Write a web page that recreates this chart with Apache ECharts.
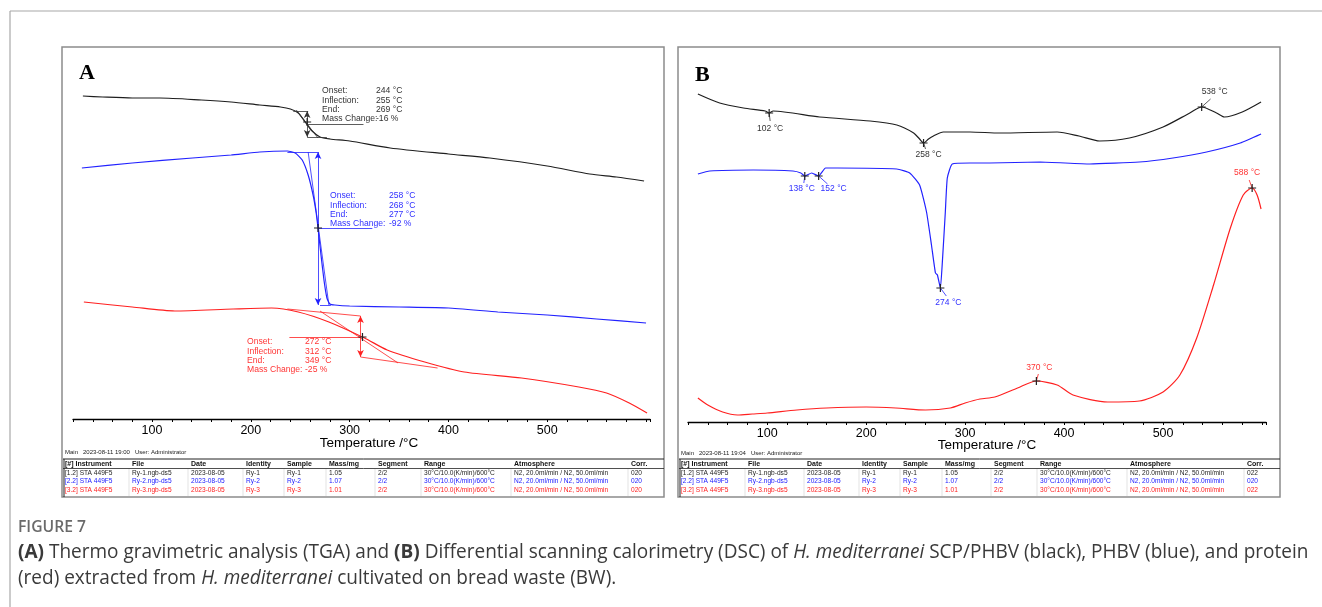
<!DOCTYPE html>
<html>
<head>
<meta charset="utf-8">
<script src="https://cdn.jsdelivr.net/npm/echarts@6/dist/echarts.min.js"></script>
<style>
  html, body { margin: 0; padding: 0; background: #fff; }
  #main { width: 1322px; height: 607px; }
</style>
</head>
<body>
<div id="main"></div>
<script>
// ---- data: [temperature °C, signal (a.u.)] ----
// (A) TGA
const tgaBlack = [[30,323],[50,322],[80,321],[108,321],[150,319],[180,317],[209,314],[230,312],[240,310],[248,306],[255,297],[262,288],[270,282],[280,280],[300,278],[341,271],[400,265],[442,261],[500,253],[543,245],[570,242],[598,238]]
const tgaBlue = [[29,251],[80,256],[141,261],[180,264],[209,267],[237,268],[245,266],[252,259],[258,244],[263,224],[266,207],[268,191],[271,164],[274,139],[277,121],[280,115],[285,114],[300,113],[350,112],[400,111],[450,107],[500,104],[550,100],[600,96]]
const tgaRed = [[31,117],[80,112],[123,108],[182,110],[221,111],[248,107],[279,97],[315,81],[338,69],[376,57],[416,47],[474,41],[532,32],[560,26],[583,16],[601,6]]

// (B) DSC
const dscBlack = [[30,328],[52,319],[76,314],[98,311],[102,309],[106,311],[153,305],[204,301],[231,297],[248,289],[254,283],[258,279],[263,283],[268,286],[278,290],[305,290],[335,289],[393,290],[415,286],[436,281],[466,284],[500,295],[527,309],[539,315],[554,309],[562,305],[580,310],[599,320]]
const dscBlue = [[30,248],[42,251],[86,252],[126,251],[134,249],[138,246],[145,249],[152,246],[159,254],[171,254],[231,253],[244,249],[254,237],[261,210],[266,177],[270,149],[272,147],[275,134],[277,160],[280,210],[282,244],[287,258],[305,259],[325,259],[376,260],[426,258],[476,260],[510,264],[544,270],[578,279],[599,288]]
const dscRed = [[30,24],[40,17],[55,10],[70,7],[85,8],[100,9],[130,12],[160,14],[200,15],[230,14],[260,12],[285,14],[300,19],[315,23],[330,25],[353,34],[372,41],[393,37],[409,27],[444,20],[476,21],[500,30],[517,47],[534,84],[551,137],[568,194],[581,227],[590,234],[595,227],[599,213]]

// TGA step evaluations
const tgaLabels = ['Onset:', 'Inflection:', 'End:', 'Mass Change:']
const tgaBlackVals = ['244 °C', '255 °C', '269 °C', '-16 %']
const tgaBlueVals = ['258 °C', '268 °C', '277 °C', '-92 %']
const tgaRedVals = ['272 °C', '312 °C', '349 °C', '-25 %']

// DSC peak labels: [label, temperature, signal]
const dscBlackPeaks = [['102 °C', 102, 309], ['258 °C', 258, 279], ['538 °C', 539, 315]]
const dscBluePeaks = [['138 °C', 138, 246], ['152 °C', 152, 246], ['274 °C', 275, 134]]
const dscRedPeaks = [['370 °C', 372, 41], ['588 °C', 590, 234]]

// instrument table
const tableHeader = ['[#] Instrument', 'File', 'Date', 'Identity', 'Sample', 'Mass/mg', 'Segment', 'Range', 'Atmosphere', 'Corr.']
const tableIds = ['1.2', '2.2', '3.2']
const tableMass = ['1.05', '1.07', '1.01']
const corrA = ['020', '020', '020']
const corrB = ['022', '020', '022']

const ink = { black: '#1e1e1e', blue: '#2222ff', red: '#ff2020' }
const txt = { black: '#333333', blue: '#3030ff', red: '#ff3535' }

const main = document.getElementById('main')
const chart = echarts.init(main, null, { renderer: 'canvas' })

const plus = 'path://M3.4,0H4.6V8H3.4Z M0,3.4H8V4.6H0Z'

function seg(a, b, arrows) {
  const s0 = arrows ? { coord: a, symbol: 'arrow' } : { coord: a }
  const s1 = arrows ? { coord: b, symbol: 'arrow' } : { coord: b }
  return [s0, s1]
}

function markLines(color, segs) {
  return {
    silent: true,
    symbol: 'none',
    symbolSize: [5, 7],
    animation: false,
    label: { show: false },
    emphasis: { disabled: true },
    lineStyle: { color: color, width: 0.8, type: 'solid' },
    data: segs
  }
}

function crosses(color, pts, labelColor, offsets) {
  return {
    silent: true,
    animation: false,
    symbol: plus,
    symbolSize: 8,
    itemStyle: { color: '#222' },
    label: { show: false },
    data: pts.map((p, i) => ({
      name: p[0] || '',
      coord: p.length === 3 ? [p[1], p[2]] : p,
      label: offsets ? {
        show: true, formatter: p[0], position: 'inside', offset: offsets[i],
        color: labelColor, fontSize: 8.5, fontFamily: 'Liberation Sans'
      } : { show: false }
    }))
  }
}

function curve(name, data, color, xi, extra) {
  return Object.assign({
    name: name,
    type: 'line',
    xAxisIndex: xi,
    yAxisIndex: xi,
    data: data,
    showSymbol: false,
    smooth: 0.25,
    animation: false,
    lineStyle: { color: color, width: 1.2 },
    itemStyle: { color: color }
  }, extra || {})
}

const xAxisBase = {
  type: 'value', min: 20, max: 604, interval: 20,
  axisLine: { lineStyle: { color: '#000', width: 1.3 } },
  axisTick: { length: 3, lineStyle: { color: '#000', width: 1 } },
  splitLine: { show: false },
  axisLabel: {
    color: '#000', fontSize: 12.5, margin: 5, fontFamily: 'Liberation Sans',
    formatter: v => (v % 100 === 0 && v >= 100 && v <= 500) ? String(v) : ''
  }
}

// ---- graphic helpers ----
function text(x, y, s, font, color, align, extra) {
  return Object.assign({
    type: 'text', x: x, y: y, silent: true,
    style: {
      text: s, font: font, fill: color,
      align: align || 'left', textAlign: align || 'left',
      verticalAlign: 'middle', textVerticalAlign: 'middle'
    }
  }, extra || {})
}
function line(x1, y1, x2, y2, color, w) {
  return { type: 'line', silent: true, shape: { x1, y1, x2, y2 }, style: { stroke: color, lineWidth: w || 1 } }
}

const colOffsets = [3, 70, 129, 184, 225, 267, 316, 362, 452, 569]
const rowColors = [ink.black, '#2020ff', '#ff2020']

function table(x0, yTop, corr) {
  const els = []
  const yHead = yTop + 5, rowH = 8.8
  els.push(line(x0 + 1, yTop, x0 + 602, yTop, '#222', 1))
  els.push(line(x0 + 1, yTop + 9.5, x0 + 602, yTop + 9.5, '#222', 0.8))
  els.push(line(x0 + 2, yTop, x0 + 2, yTop + 38, '#222', 1))
  tableHeader.forEach((h, c) => {
    els.push(text(x0 + colOffsets[c], yHead, h, 'bold 7px "Liberation Sans"', '#111'))
    if (c > 0) els.push(line(x0 + colOffsets[c] - 3, yTop + 10, x0 + colOffsets[c] - 3, yTop + 37, '#d0d0d0', 0.6))
  })
  tableIds.forEach((id, r) => {
    const n = r + 1
    const cells = ['[' + id + '] STA 449F5', 'Ry-' + n + '.ngb-ds5', '2023-08-05', 'Ry-' + n, 'Ry-' + n,
      tableMass[r], '2/2', '30°C/10.0(K/min)/600°C', 'N2, 20.0ml/min / N2, 50.0ml/min', corr[r]]
    const y = yHead + rowH * (r + 1)
    cells.forEach((s, c) => els.push(text(x0 + colOffsets[c], y, s, '6.6px "Liberation Sans"', rowColors[r])))
  })
  return els
}

function tgaBlock(x, xv, y0, vals, color) {
  const els = []
  tgaLabels.forEach((l, i) => {
    els.push(text(x, y0 + i * 9.2, l, '8.6px "Liberation Sans"', color))
    els.push(text(xv, y0 + i * 9.2, vals[i], '8.6px "Liberation Sans"', color))
  })
  return els
}

const capFont = '"Open Sans"'
const graphics = [
  line(10, 11, 1322, 11, '#a8a8a8', 1.2),
  line(10, 11, 10, 607, '#a8a8a8', 1.2),
  { type: 'rect', silent: true, shape: { x: 62, y: 47, width: 602, height: 450 }, style: { fill: 'none', stroke: '#8c8c8c', lineWidth: 1.5 } },
  { type: 'rect', silent: true, shape: { x: 678, y: 47, width: 602, height: 450 }, style: { fill: 'none', stroke: '#8c8c8c', lineWidth: 1.5 } },
  text(79, 73, 'A', 'bold 22px "Liberation Serif"', '#000'),
  text(695, 75, 'B', 'bold 22px "Liberation Serif"', '#000'),
  text(369, 443, 'Temperature /°C', '13.5px "Liberation Sans"', '#000', 'center'),
  text(987, 445, 'Temperature /°C', '13.5px "Liberation Sans"', '#000', 'center'),
  text(65, 452, 'Main   2023-08-11 19:00   User: Administrator', '6px "Liberation Sans"', '#222'),
  text(681, 453, 'Main   2023-08-11 19:04   User: Administrator', '6px "Liberation Sans"', '#222'),
  ...table(62, 459, corrA),
  ...table(678, 459, corrB),
  ...tgaBlock(322, 376, 91, tgaBlackVals, txt.black),
  ...tgaBlock(330, 389, 196, tgaBlueVals, txt.blue),
  ...tgaBlock(247, 305, 342, tgaRedVals, txt.red),
  text(18, 527, 'FIGURE 7', '600 16px ' + capFont, '#6a6a6a', 'left', { scaleX: 0.98 }),
  {
    type: 'text', x: 18, y: 552, silent: true, scaleX: 0.95,
    style: {
      text: '{b|(A)} Thermo gravimetric analysis (TGA) and {b|(B)} Differential scanning calorimetry (DSC) of {i|H. mediterranei} SCP/PHBV (black), PHBV (blue), and protein',
      font: '20px ' + capFont, fill: '#3a3a3a', verticalAlign: 'middle', textVerticalAlign: 'middle',
      rich: {
        b: { font: 'bold 20px ' + capFont, fill: '#3a3a3a' },
        i: { font: 'italic 20px ' + capFont, fill: '#3a3a3a' }
      }
    }
  },
  {
    type: 'text', x: 18, y: 578, silent: true, scaleX: 0.95,
    style: {
      text: '(red) extracted from {i|H. mediterranei} cultivated on bread waste (BW).',
      font: '20px ' + capFont, fill: '#3a3a3a', verticalAlign: 'middle', textVerticalAlign: 'middle',
      rich: { i: { font: 'italic 20px ' + capFont, fill: '#3a3a3a' } }
    }
  }
]

chart.setOption({
  backgroundColor: '#fff',
  animation: false,
  grid: [
    { left: 73, right: 672, top: 47, bottom: 188 },
    { left: 688, right: 56, top: 47, bottom: 185 }
  ],
  xAxis: [
    Object.assign({ gridIndex: 0 }, xAxisBase),
    Object.assign({ gridIndex: 1 }, xAxisBase)
  ],
  yAxis: [
    { gridIndex: 0, type: 'value', min: 0, max: 372, show: false },
    { gridIndex: 1, type: 'value', min: 0, max: 375, show: false }
  ],
  series: [
    curve('SCP/PHBV TGA', tgaBlack, ink.black, 0, {
      markLine: markLines('#333', [
        seg([243, 308], [258, 308]),
        seg([257, 282], [277, 282]),
        seg([246, 309], [268, 281]),
        seg([257, 308], [257, 282], true),
        seg([257, 295], [314, 295])
      ]),
      markPoint: crosses('#222', [[257, 297]])
    }),
    curve('PHBV TGA', tgaBlue, ink.blue, 0, {
      smooth: 0.15,
      markLine: markLines(ink.blue, [
        seg([237, 267], [268, 267]),
        seg([258, 267], [279, 114]),
        seg([270, 114], [281, 114]),
        seg([268, 267], [268, 114], true),
        seg([268, 191], [323, 191])
      ]),
      markPoint: crosses('#222', [[268, 191]])
    }),
    curve('Protein TGA', tgaRed, ink.red, 0, {
      markLine: markLines(ink.red, [
        seg([237, 110], [311, 103]),
        seg([270, 108], [349, 56]),
        seg([311, 62], [389, 51]),
        seg([311, 103], [311, 62], true),
        seg([239, 82], [311, 82])
      ]),
      markPoint: crosses('#222', [[313, 82]])
    }),
    curve('SCP/PHBV DSC', dscBlack, ink.black, 1, {
      markLine: markLines('#333', [
        seg([102, 309], [103, 301]),
        seg([258, 279], [260, 273]),
        seg([539, 315], [548, 323])
      ]),
      markPoint: crosses('#222', dscBlackPeaks, txt.black, [[1, 16], [5, 12], [13, -15]])
    }),
    curve('PHBV DSC', dscBlue, ink.blue, 1, {
      smooth: 0.15,
      markLine: markLines(ink.blue, [
        seg([138, 246], [137, 239]),
        seg([152, 246], [161, 238]),
        seg([275, 134], [281, 126])
      ]),
      markPoint: crosses('#222', dscBluePeaks, txt.blue, [[-3, 13], [15, 13], [8, 15]])
    }),
    curve('Protein DSC', dscRed, ink.red, 1, {
      markLine: markLines(ink.red, [
        seg([372, 41], [374, 48]),
        seg([590, 234], [587, 242])
      ]),
      markPoint: crosses('#222', dscRedPeaks, txt.red, [[3, -13], [-5, -15]])
    })
  ],
  graphic: { elements: graphics }
})
</script>
</body>
</html>
